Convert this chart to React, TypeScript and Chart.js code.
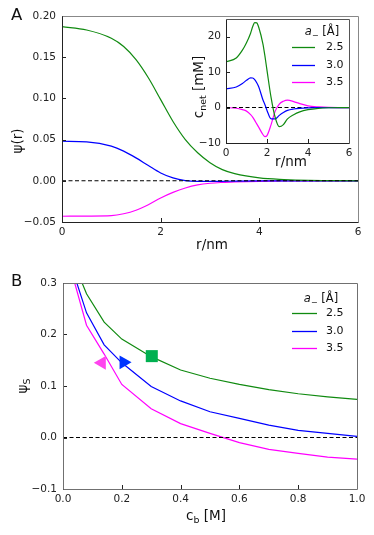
import React, { useEffect, useRef } from "react";
import { Chart, registerables } from "chart.js";
Chart.register(...registerables);

const FONT = "'DejaVu Sans', sans-serif";
const GREEN = "#108a10";
const BLUE = "#0000ff";
const MAGENTA = "#ff00ff";

// ---------- Panel A (main): psi(r) ----------
const rA = [0, 0.5, 1, 1.25, 1.5, 1.75, 2, 2.25, 2.5, 2.75, 3, 3.25, 3.5, 4, 4.5, 5, 6];
const psiA25 = [0.187, 0.183, 0.173, 0.163, 0.147, 0.125, 0.0985, 0.072, 0.05, 0.034, 0.022, 0.0136, 0.0087, 0.0035, 0.0015, 0.0005, 0];
const psiA30 = [0.048, 0.0472, 0.042, 0.036, 0.0278, 0.0185, 0.0095, 0.0035, 0.0003, -0.0007, -0.0008, -0.0006, -0.0004, -0.0001, 0, 0, 0];
const psiA35 = [-0.043, -0.0428, -0.0423, -0.04, -0.0357, -0.029, -0.0208, -0.014, -0.0087, -0.005, -0.003, -0.002, -0.0014, -0.0006, -0.0002, 0, 0];
const xTicksA = [0, 2, 4, 6];
const yTicksA = [-0.05, 0, 0.05, 0.1, 0.15, 0.2];

// ---------- Panel A (inset): c_net(r) ----------
const rInset = [0, 0.5, 0.8, 1.0, 1.2, 1.3, 1.4, 1.5, 1.6, 1.8, 1.9, 2.0, 2.2, 2.4, 2.6, 2.8, 3.0, 3.3, 3.6, 4, 4.5, 5, 6];
const cnet25 = [12.9, 14.0, 16.2, 18.3, 21.0, 22.8, 24.0, 23.9, 22.6, 18.0, 14.5, 10.5, 2.8, -2.8, -5.4, -4.8, -3.2, -2.0, -1.2, -0.6, -0.2, -0.05, 0];
const cnet30 = [5.3, 5.8, 6.8, 7.7, 8.4, 8.35, 7.9, 7.0, 5.8, 2.2, 0.8, -0.8, -3.2, -3.2, -2.2, -1.4, -0.8, -0.4, -0.2, -0.08, -0.02, 0, 0];
const cnet35 = [0, -0.2, -0.6, -1.0, -2.0, -2.7, -3.6, -4.6, -5.6, -7.6, -8.2, -7.9, -4.8, -1.0, 1.0, 1.8, 2.1, 1.7, 1.1, 0.5, 0.2, 0.05, 0];
const xTicksInset = [0, 2, 4, 6];
const yTicksInset = [-10, 0, 10, 20];

// ---------- Panel B: psi_S(c_b) ----------
const cb = [0.03, 0.08, 0.14, 0.2, 0.3, 0.4, 0.5, 0.6, 0.7, 0.8, 0.9, 1.0];
const psiS25 = [0.349, 0.279, 0.224, 0.191, 0.157, 0.131, 0.115, 0.103, 0.093, 0.085, 0.079, 0.074];
const psiS30 = [0.33, 0.242, 0.18, 0.145, 0.099, 0.071, 0.05, 0.037, 0.024, 0.014, 0.008, 0.002];
const psiS35 = [0.32, 0.218, 0.162, 0.103, 0.056, 0.027, 0.008, -0.01, -0.023, -0.031, -0.038, -0.042];
const markerSquare = [{ x: 0.302, y: 0.158 }];
const markerRight = [{ x: 0.206, y: 0.146 }];
const markerLeft = [{ x: 0.132, y: 0.145 }];
const xTicksB = [0, 0.2, 0.4, 0.6, 0.8, 1.0];
const yTicksB = [-0.1, 0, 0.1, 0.2, 0.3];

const seriesLabels = ["2.5", "3.0", "3.5"];
const seriesColors = [GREEN, BLUE, MAGENTA];

type Part = { t: string; sub?: boolean; italic?: boolean };

function drawRich(ctx: CanvasRenderingContext2D, parts: Part[], x: number, y: number, size: number, rotate: boolean, align: "center" | "left" = "center") {
  ctx.save();
  ctx.translate(x, y);
  if (rotate) ctx.rotate(-Math.PI / 2);
  const fontFor = (p: Part) => `${p.italic ? "italic " : ""}${p.sub ? size * 0.7 : size}px ${FONT}`;
  let total = 0;
  for (const p of parts) {
    ctx.font = fontFor(p);
    total += ctx.measureText(p.t).width;
  }
  let cx = align === "center" ? -total / 2 : 0;
  ctx.textBaseline = "middle";
  ctx.textAlign = "left";
  ctx.fillStyle = "#111";
  for (const p of parts) {
    ctx.font = fontFor(p);
    ctx.fillText(p.t, cx, p.sub ? size * 0.32 : 0);
    cx += ctx.measureText(p.t).width;
  }
  ctx.restore();
}

const fmt = (d: number) => (v: any) => {
  const n = Number(v);
  const s = Math.abs(n) < 1e-9 ? (0).toFixed(d) : n.toFixed(d);
  return s.replace("-", "\u2212");
};

type Decor = {
  name: string;
  frameLB: string;
  frameTR: string;
  fillArea?: boolean;
  texts: { parts: Part[]; x: number; y: number; size: number; rotate?: boolean; align?: "center" | "left" }[];
  legend?: { titleDx: number; titleDy: number; lineX0: number; lineX1: number; textDx: number; rows: number[] };
};

function decor(cfg: Decor) {
  return {
    id: "decor_" + cfg.name,
    beforeDraw(chart: any) {
      if (!cfg.fillArea) return;
      const a = chart.chartArea;
      const ctx = chart.ctx;
      ctx.save();
      ctx.fillStyle = "#fff";
      ctx.fillRect(a.left, a.top, a.right - a.left, a.bottom - a.top);
      ctx.restore();
    },
    afterDraw(chart: any) {
      const { ctx, chartArea: a, scales } = chart;
      ctx.save();
      // inward ticks
      ctx.strokeStyle = "#222";
      ctx.lineWidth = 1;
      for (const t of scales.x.ticks) {
        const px = Math.round(scales.x.getPixelForValue(t.value)) + 0.5;
        ctx.beginPath();
        ctx.moveTo(px, a.bottom);
        ctx.lineTo(px, a.bottom - 4);
        ctx.stroke();
      }
      for (const t of scales.y.ticks) {
        const py = Math.round(scales.y.getPixelForValue(t.value)) + 0.5;
        ctx.beginPath();
        ctx.moveTo(a.left, py);
        ctx.lineTo(a.left + 4, py);
        ctx.stroke();
      }
      // frame
      const L = Math.round(a.left) + 0.5, R = Math.round(a.right) + 0.5, T = Math.round(a.top) + 0.5, B = Math.round(a.bottom) + 0.5;
      ctx.strokeStyle = cfg.frameTR;
      ctx.beginPath();
      ctx.moveTo(L, T); ctx.lineTo(R, T); ctx.lineTo(R, B);
      ctx.stroke();
      ctx.strokeStyle = cfg.frameLB;
      ctx.beginPath();
      ctx.moveTo(L, T); ctx.lineTo(L, B); ctx.lineTo(R, B);
      ctx.stroke();
      // texts
      for (const t of cfg.texts) drawRich(ctx, t.parts, t.x, t.y, t.size, !!t.rotate, t.align || "center");
      // legend
      if (cfg.legend) {
        const lg = cfg.legend;
        drawRich(ctx, [{ t: "a", italic: true }, { t: "\u2212", sub: true }, { t: " [\u00C5]" }], a.right + lg.titleDx, a.top + lg.titleDy, 11.5, false);
        lg.rows.forEach((dy, i) => {
          const y = Math.round(a.top + dy) + 0.5;
          ctx.strokeStyle = seriesColors[i];
          ctx.lineWidth = 1.3;
          ctx.beginPath();
          ctx.moveTo(a.right + lg.lineX0, y);
          ctx.lineTo(a.right + lg.lineX1, y);
          ctx.stroke();
          drawRich(ctx, [{ t: seriesLabels[i] }], a.right + lg.textDx, y, 11, false, "left");
        });
      }
      ctx.restore();
    },
  };
}

function axis(min: number, max: number, ticks: number[], decimals: number, padding: number, fit: (s: any) => void) {
  return {
    type: "linear" as const,
    min,
    max,
    grid: { display: false, drawTicks: false, tickLength: 0 },
    border: { display: false },
    ticks: { font: { family: FONT, size: 10.5 }, color: "#222", padding, callback: fmt(decimals), autoSkip: false, maxRotation: 0 },
    afterBuildTicks: (s: any) => {
      s.ticks = ticks.map((v) => ({ value: v }));
    },
    afterFit: fit,
  };
}

function lineDs(xs: number[], ys: number[], color: string, smooth: boolean) {
  return {
    data: xs.map((x, i) => ({ x, y: ys[i] })),
    borderColor: color,
    backgroundColor: color,
    borderWidth: 1.2,
    pointRadius: 0,
    fill: false,
    cubicInterpolationMode: smooth ? ("monotone" as const) : ("default" as const),
    tension: 0,
  };
}

function zeroDs(x0: number, x1: number) {
  return {
    data: [{ x: x0, y: 0 }, { x: x1, y: 0 }],
    borderColor: "#000",
    borderWidth: 1.1,
    borderDash: [4, 2.5],
    pointRadius: 0,
    fill: false,
  };
}

const baseOptions = (padding: any) => ({
  responsive: false,
  animation: false as const,
  events: [] as any[],
  layout: { padding },
  plugins: { legend: { display: false }, tooltip: { enabled: false } },
});

export default function App() {
  const aRef = useRef<HTMLCanvasElement>(null);
  const iRef = useRef<HTMLCanvasElement>(null);
  const bRef = useRef<HTMLCanvasElement>(null);

  useEffect(() => {
    const charts: Chart[] = [];

    charts.push(
      new Chart(aRef.current!, {
        type: "line",
        data: {
          datasets: [
            zeroDs(0, 6),
            lineDs(rA, psiA25, GREEN, true),
            lineDs(rA, psiA30, BLUE, true),
            lineDs(rA, psiA35, MAGENTA, true),
          ] as any,
        },
        options: {
          ...baseOptions({ left: 0, top: 16, right: 16, bottom: 0 }),
          scales: {
            x: axis(0, 6, xTicksA, 0, 4, (s) => { s.height = 43; }),
            y: axis(-0.05, 0.2, yTicksA, 2, 6, (s) => { s.width = 62; }),
          },
        } as any,
        plugins: [
          decor({
            name: "A",
            frameLB: "#222",
            frameTR: "#888",
            texts: [
              { parts: [{ t: "A" }], x: 11, y: 16, size: 16.5, align: "left" },
              { parts: [{ t: "\u03C8(r)" }], x: 18, y: 141, size: 13.5, rotate: true },
              { parts: [{ t: "r/nm" }], x: 212, y: 245, size: 13.5 },
            ],
          }),
        ],
      })
    );

    charts.push(
      new Chart(iRef.current!, {
        type: "line",
        data: {
          datasets: [
            lineDs(rInset, cnet25, GREEN, true),
            lineDs(rInset, cnet30, BLUE, true),
            zeroDs(0, 6),
            lineDs(rInset, cnet35, MAGENTA, true),
          ] as any,
        },
        options: {
          ...baseOptions({ left: 0, top: 19, right: 16, bottom: 0 }),
          scales: {
            x: axis(0, 6, xTicksInset, 0, 4, (s) => { s.height = 32; }),
            y: axis(-10, 25, yTicksInset, 0, 5, (s) => { s.width = 46; }),
          },
        } as any,
        plugins: [
          decor({
            name: "inset",
            frameLB: "#222",
            frameTR: "#555",
            fillArea: true,
            texts: [
              { parts: [{ t: "c" }, { t: "net", sub: true }, { t: " [mM]" }], x: 19, y: 87, size: 13.5, rotate: true },
              { parts: [{ t: "r/nm" }], x: 111, y: 162, size: 13.5 },
            ],
            legend: { titleDx: -27, titleDy: 13, lineX0: -57, lineX1: -34, textDx: -23, rows: [28, 46, 63] },
          }),
        ],
      })
    );

    charts.push(
      new Chart(bRef.current!, {
        type: "line",
        data: {
          datasets: [
            {
              type: "scatter",
              data: markerSquare,
              pointStyle: "rect",
              pointRadius: 8.5,
              backgroundColor: "#00b050",
              borderColor: "#00b050",
              borderWidth: 0,
            },
            {
              type: "scatter",
              data: markerRight,
              pointStyle: "triangle",
              pointRotation: 90,
              pointRadius: 8,
              backgroundColor: "#0033ff",
              borderColor: "#0033ff",
              borderWidth: 0,
            },
            {
              type: "scatter",
              data: markerLeft,
              pointStyle: "triangle",
              pointRotation: -90,
              pointRadius: 8,
              backgroundColor: "#ff44ee",
              borderColor: "#ff44ee",
              borderWidth: 0,
            },
            zeroDs(0, 1),
            lineDs(cb, psiS25, GREEN, false),
            lineDs(cb, psiS30, BLUE, false),
            lineDs(cb, psiS35, MAGENTA, false),
          ] as any,
        },
        options: {
          ...baseOptions({ left: 0, top: 13, right: 17, bottom: 0 }),
          scales: {
            x: axis(0, 1, xTicksB, 1, 4, (s) => { s.height = 46; }),
            y: axis(-0.1, 0.3, yTicksB, 1, 6, (s) => { s.width = 63; }),
          },
        } as any,
        plugins: [
          decor({
            name: "B",
            frameLB: "#707070",
            frameTR: "#707070",
            texts: [
              { parts: [{ t: "B" }], x: 11, y: 12, size: 16.5, align: "left" },
              { parts: [{ t: "\u03C8" }, { t: "S", sub: true }], x: 23, y: 116, size: 13.5, rotate: true },
              { parts: [{ t: "c" }, { t: "b", sub: true }, { t: " [M]" }], x: 206, y: 246, size: 13.5 },
            ],
            legend: { titleDx: -36, titleDy: 16, lineX0: -65, lineX1: -40, textDx: -31, rows: [30, 48, 65] },
          }),
        ],
      })
    );

    return () => charts.forEach((c) => c.destroy());
  }, []);

  return (
    <div style={{ position: "absolute", left: 0, top: 0, width: 374, height: 535, background: "#fff" }}>
      <canvas ref={aRef} width={374} height={265} style={{ position: "absolute", left: 0, top: 0, width: 374, height: 265 }} />
      <canvas ref={iRef} width={185} height={175} style={{ position: "absolute", left: 180, top: 0, width: 185, height: 175 }} />
      <canvas ref={bRef} width={374} height={265} style={{ position: "absolute", left: 0, top: 270, width: 374, height: 265 }} />
    </div>
  );
}
